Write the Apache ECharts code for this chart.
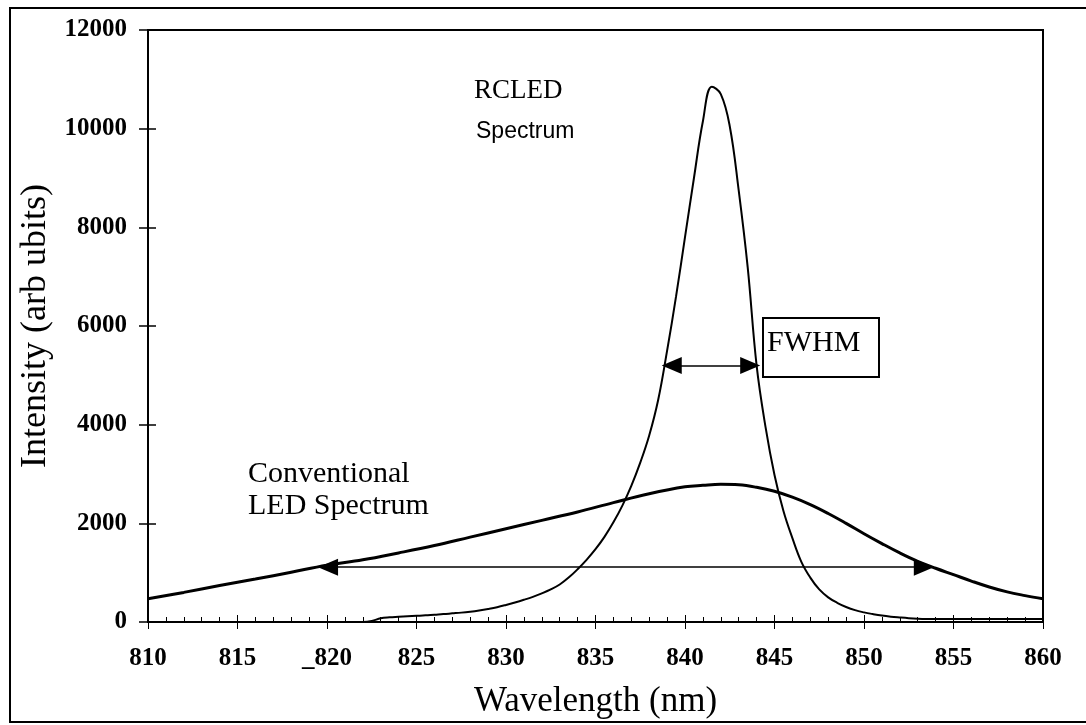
<!DOCTYPE html>
<html>
<head>
<meta charset="utf-8">
<script src="https://cdn.jsdelivr.net/npm/echarts@6/dist/echarts.min.js"></script>
<style>
  html, body { margin: 0; padding: 0; background: #fff; }
  #chart { width: 1086px; height: 725px; }
</style>
</head>
<body>
<div id="chart"></div>
<script>
// Conventional LED emission spectrum (wavelength nm, intensity arb. units)
const ledX = [810, 812, 814, 816, 818, 820, 822, 824, 826, 828, 830, 832, 834, 836, 838, 840, 841, 842, 843, 844,
              845, 846, 847, 848, 849, 850, 851, 852, 853, 854, 855, 856, 857, 858, 859, 860];
const ledY = [470, 600, 740, 870, 1010, 1150, 1260, 1400, 1550, 1720, 1890, 2060, 2230, 2420, 2600, 2740, 2770, 2790, 2780, 2730,
              2650, 2530, 2380, 2200, 2000, 1790, 1590, 1400, 1230, 1090, 960, 830, 710, 610, 535, 470];

// Resonant-cavity LED emission spectrum (0.5 nm steps, then 1 nm along the flat tail)
const rcledX = [821, 821.5, 822, 822.5, 823, 823.5, 824, 824.5, 825, 825.5, 826, 826.5, 827, 827.5, 828, 828.5,
                829, 829.5, 830, 830.5, 831, 831.5, 832, 832.5, 833, 833.5, 834, 834.5, 835, 835.5, 836, 836.5,
                837, 837.5, 838, 838.5, 839, 839.5, 840, 840.5, 841, 841.5, 842, 842.5, 843, 843.5, 844, 844.5,
                845, 845.5, 846, 846.5, 847, 847.5, 848, 848.5, 849, 849.5, 850, 850.5, 851, 851.5, 852, 852.5,
                853, 853.5, 854, 855, 856, 857, 858, 859, 860];
const rcledY = [0, 0, 0, 20, 75, 95, 105, 115, 125, 135, 148, 160, 175, 190, 210, 235,
                265, 300, 345, 395, 450, 510, 580, 660, 760, 900, 1070, 1260, 1475, 1725, 2020, 2360,
                2760, 3230, 3780, 4500, 5500, 6600, 7800, 9000, 10150, 10850, 10700, 10050, 8750, 7200, 5200, 3950,
                2980, 2250, 1700, 1220, 900, 660, 500, 390, 305, 240, 195, 160, 130, 108, 92, 78,
                68, 62, 60, 60, 60, 60, 60, 60, 60];

// Axis tick labels
const xTickLabels = ['810', '815', '_820', '825', '830', '835', '840', '845', '850', '855', '860'];
const yTickLabels = ['0', '2000', '4000', '6000', '8000', '10000', '12000'];

// Width markers: [left tip, right tip] wavelengths and the intensity they sit at
const fwhmSpan = [838.7, 844.2];
const fwhmLevel = 5200;
const ledSpan = [819.5, 853.9];
const ledSpanLevel = 1110;

const SERIF = "'Liberation Serif', 'Times New Roman', serif";
const SANS = "'Liberation Sans', Arial, sans-serif";

const gridBox = { left: 148, top: 30, width: 895, height: 592 };
const xMin = 810, xMax = 860, xStep = 5;
const yMin = 0, yMax = 12000, yStep = 2000;
const pxPerNm = gridBox.width / (xMax - xMin);
const headLen = 20, headWide = 17;
// pull each end in by half a head so the triangle tips land on the span ends
const headPad = (headLen / 2) / pxPerNm;

function pairs(xs, ys) { return xs.map((x, i) => [x, ys[i]]); }

function spanLine(span, level) {
  return [[{ coord: [span[0] + headPad, level] }, { coord: [span[1] - headPad, level] }]];
}

const chart = echarts.init(document.getElementById('chart'), null, { renderer: 'canvas' });

const option = {
  animation: false,
  backgroundColor: '#fff',
  grid: Object.assign({ show: true, borderColor: '#000', borderWidth: 2, backgroundColor: 'transparent' }, gridBox),
  xAxis: [
    {
      type: 'value', min: xMin, max: xMax, interval: xStep, position: 'bottom',
      axisLine: { show: true, lineStyle: { color: '#000', width: 2 } },
      axisTick: { show: true, inside: false, length: 7, lineStyle: { color: '#000', width: 1 } },
      axisLabel: {
        margin: 24, color: '#000', fontFamily: SERIF, fontWeight: 'bold', fontSize: 25,
        formatter: v => xTickLabels[Math.round((v - xMin) / xStep)] || ''
      },
      splitLine: { show: false },
      name: 'Wavelength (nm)', nameLocation: 'middle', nameGap: 62,
      nameTextStyle: { color: '#000', fontFamily: SERIF, fontSize: 35 }
    },
    {
      type: 'value', min: xMin, max: xMax, interval: xStep, position: 'bottom',
      axisLine: { show: false },
      axisTick: { show: true, inside: true, length: 7, lineStyle: { color: '#000', width: 1 } },
      minorTick: { show: true, splitNumber: 5, length: 5, lineStyle: { color: '#000', width: 1 } },
      axisLabel: { show: false },
      splitLine: { show: false }
    }
  ],
  yAxis: [
    {
      type: 'value', min: yMin, max: yMax, interval: yStep, position: 'left',
      axisLine: { show: true, lineStyle: { color: '#000', width: 2 } },
      axisTick: { show: true, inside: false, length: 9, lineStyle: { color: '#000', width: 1.5 } },
      axisLabel: {
        margin: 21, color: '#000', fontFamily: SERIF, fontWeight: 'bold', fontSize: 25,
        formatter: v => yTickLabels[Math.round((v - yMin) / yStep)] || ''
      },
      splitLine: { show: false },
      name: 'Intensity (arb ubits)', nameLocation: 'middle', nameRotate: 90, nameGap: 62,
      nameTextStyle: { color: '#000', fontFamily: SERIF, fontSize: 36 }
    },
    {
      type: 'value', min: yMin, max: yMax, interval: yStep, position: 'left',
      axisLine: { show: false },
      axisTick: { show: true, inside: true, length: 8, lineStyle: { color: '#000', width: 1.5 } },
      axisLabel: { show: false },
      splitLine: { show: false }
    }
  ],
  series: [
    {
      name: 'Conventional LED', type: 'line', xAxisIndex: 0, yAxisIndex: 0,
      data: pairs(ledX, ledY), smooth: 0.4, showSymbol: false,
      lineStyle: { color: '#000', width: 3 },
      markLine: {
        silent: true, symbol: ['triangle', 'triangle'], symbolSize: [headWide, headLen],
        label: { show: false },
        lineStyle: { color: '#000', width: 1.5, type: 'solid' },
        data: spanLine(ledSpan, ledSpanLevel)
      }
    },
    {
      name: 'RCLED', type: 'line', xAxisIndex: 0, yAxisIndex: 0,
      data: pairs(rcledX, rcledY), smooth: 0.4, showSymbol: false,
      lineStyle: { color: '#000', width: 2 },
      markLine: {
        silent: true, symbol: ['triangle', 'triangle'], symbolSize: [headWide, headLen],
        label: { show: false },
        lineStyle: { color: '#000', width: 1.5, type: 'solid' },
        data: spanLine(fwhmSpan, fwhmLevel)
      }
    }
  ],
  graphic: [
    { type: 'rect', silent: true, shape: { x: 10, y: 8, width: 1100, height: 714 },
      style: { fill: 'none', stroke: '#000', lineWidth: 2 } },
    { type: 'text', silent: true,
      style: { x: 474, y: 91, text: 'RCLED', font: `27px ${SERIF}`, fill: '#000', align: 'left', verticalAlign: 'middle' } },
    { type: 'text', silent: true,
      style: { x: 476, y: 132, text: 'Spectrum', font: `23px ${SANS}`, fill: '#000', align: 'left', verticalAlign: 'middle' } },
    { type: 'text', silent: true,
      style: { x: 248, y: 474, text: 'Conventional', font: `30px ${SERIF}`, fill: '#000', align: 'left', verticalAlign: 'middle' } },
    { type: 'text', silent: true,
      style: { x: 248, y: 506, text: 'LED Spectrum', font: `30px ${SERIF}`, fill: '#000', align: 'left', verticalAlign: 'middle' } },
    { type: 'rect', silent: true, shape: { x: 763, y: 318, width: 116, height: 59 },
      style: { fill: '#fff', stroke: '#000', lineWidth: 2 } },
    { type: 'text', silent: true,
      style: { x: 767, y: 343, text: 'FWHM', font: `30px ${SERIF}`, fill: '#000', align: 'left', verticalAlign: 'middle' } }
  ]
};

chart.setOption(option);
</script>
</body>
</html>
